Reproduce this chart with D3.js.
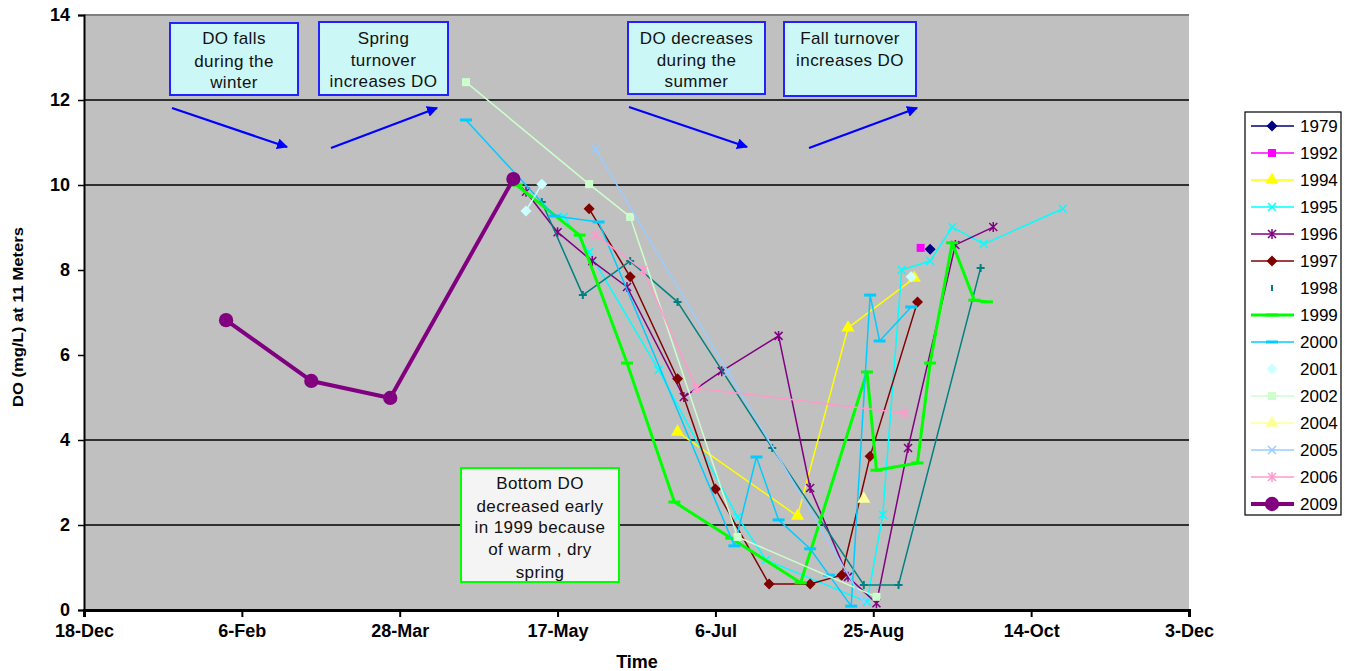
<!DOCTYPE html>
<html><head><meta charset="utf-8">
<script src="https://cdn.jsdelivr.net/npm/d3@7"></script>
<style>
body{margin:0;background:#fff}
svg{display:block}
text{font-family:"Liberation Sans",Arial,sans-serif}
</style>
</head><body>
<svg id="c" width="1345" height="671"></svg>
<script>
// ---------------- DATA ----------------
const years = ["1979","1992","1994","1995","1996","1997","1998","1999","2000","2001","2002","2004","2005","2006","2009"];
const xTickDates = ["2008-12-18","2009-02-06","2009-03-28","2009-05-17","2009-07-06","2009-08-25","2009-10-14","2009-12-03"];
const yTickValues = [0,2,4,6,8,10,12,14];
const gridValues = [2,4,10,12];

const d1979 = ["09-12"];
const v1979 = [8.49];
const d1992 = ["09-09"];
const v1992 = [8.52];
const d1994 = ["06-24","08-01","08-17","09-07"];
const v1994 = [4.19, 2.21, 6.64, 7.81];
const d1995 = ["05-19","05-27","06-18","07-13","07-22","08-23","08-28","09-03","09-12","09-19","09-29","10-24"];
const v1995 = [9.25, 8.42, 5.65, 2.19, 1.18, 0.19, 2.24, 8.00, 8.21, 9.01, 8.61, 9.44];
const d1996 = ["05-07","05-17","05-28","06-08","06-26","07-08","07-26","08-05","08-17","08-26","09-05","09-20","10-02"];
const v1996 = [9.84, 8.89, 8.21, 7.60, 5.01, 5.62, 6.45, 2.87, 0.78, 0.16, 3.81, 8.59, 9.01];
const d1997 = ["05-27","06-09","06-24","07-06","07-23","08-05","08-15","08-24","09-08"];
const v1997 = [9.44, 7.84, 5.44, 2.85, 0.61, 0.61, 0.82, 3.62, 7.25];
const d1998 = ["05-12","05-25","06-09","06-24","07-24","08-22","09-02","09-28"];
const v1998 = [9.60, 7.41, 8.21, 7.25, 3.81, 0.59, 0.59, 8.05];
const d1999 = ["05-04","05-24","06-08","06-23","07-11","08-02","08-23","08-26","09-08","09-12","09-19","09-26","09-30"];
const v1999 = [10.00, 8.82, 5.81, 2.54, 1.69, 0.64, 5.60, 3.29, 3.46, 5.81, 8.64, 7.29, 7.25];
const d2000 = ["04-18","05-16","05-30","07-12","07-19","07-26","08-05","08-11","08-18","08-24","08-27","09-06"];
const v2000 = [11.53, 9.27, 9.13, 1.51, 3.60, 2.12, 1.44, 0.82, 0.09, 7.41, 6.33, 7.13];
const d2001 = ["05-07","05-12", null, "09-06"];
const v2001 = [9.39, 10.02, null, 7.84];
const d2002 = ["04-18","05-27","06-09","07-13","08-26"];
const v2002 = [12.42, 10.02, 9.25, 1.72, 0.31];
const d2004 = ["08-22"];
const v2004 = [2.61];
const d2005 = ["05-29","07-10","08-22"];
const v2005 = [10.85, 5.60, 0.21];
const d2006 = ["05-29","06-13","06-30","09-04"];
const v2006 = [8.82, 8.00, 5.22, 4.63];
const d2009 = ["02-01","02-28","03-25","05-03"];
const v2009 = [6.82, 5.39, 4.99, 10.14];

const annotationTexts = [
  ["DO falls","during the","winter"],
  ["Spring","turnover","increases DO"],
  ["DO decreases","during the","summer"],
  ["Fall turnover","increases DO"],
  ["Bottom DO","decreased early","in 1999 because","of warm , dry","spring"]
];
const axisTitleX = "Time";
const axisTitleY = "DO (mg/L) at 11 Meters";

// ---------------- STYLE ----------------
const seriesDates = {"1979":d1979,"1992":d1992,"1994":d1994,"1995":d1995,"1996":d1996,"1997":d1997,"1998":d1998,"1999":d1999,"2000":d2000,"2001":d2001,"2002":d2002,"2004":d2004,"2005":d2005,"2006":d2006,"2009":d2009};
const seriesVals = {"1979":v1979,"1992":v1992,"1994":v1994,"1995":v1995,"1996":v1996,"1997":v1997,"1998":v1998,"1999":v1999,"2000":v2000,"2001":v2001,"2002":v2002,"2004":v2004,"2005":v2005,"2006":v2006,"2009":v2009};
const style = {
  "1979":{c:"#000080",m:"diamond",w:1.5,legLine:true},
  "1992":{c:"#FF00FF",m:"square",w:1.5,legLine:true},
  "1994":{c:"#FFFF00",m:"triangle",w:1.5,legLine:true},
  "1995":{c:"#00FFFF",m:"x",w:1.5,legLine:true},
  "1996":{c:"#800080",m:"star",w:1.5,legLine:true},
  "1997":{c:"#800000",m:"diamond",w:1.5,legLine:true},
  "1998":{c:"#008080",m:"plus",w:1.5,legLine:false},
  "1999":{c:"#00FF00",m:"dash",w:3,legLine:true},
  "2000":{c:"#00CCFF",m:"dash",w:1.5,legLine:true},
  "2001":{c:"#CCFFFF",m:"diamond",w:1.5,legLine:false},
  "2002":{c:"#CCFFCC",m:"square",w:1.5,legLine:true},
  "2004":{c:"#FFFF99",m:"triangle",w:1.5,legLine:true},
  "2005":{c:"#99CCFF",m:"x",w:1.5,legLine:true},
  "2006":{c:"#FF99CC",m:"star",w:1.5,legLine:true},
  "2009":{c:"#800080",m:"circle",w:4,legLine:true}
};

const plot = {left:84, right:1189, top:15, bottom:610};
const svg = d3.select("#c");
const parseFull = d3.timeParse("%Y-%m-%d");
const parseMD = s => s == null ? null : parseFull("2009-" + s);

const x = d3.scaleTime().domain([parseFull(xTickDates[0]), parseFull(xTickDates[xTickDates.length-1])]).range([plot.left, plot.right]);
const y = d3.scaleLinear().domain([0,14]).range([plot.bottom, plot.top]);

// plot background
svg.append("rect").attr("x",plot.left).attr("y",plot.top).attr("width",plot.right-plot.left).attr("height",plot.bottom-plot.top).attr("fill","#C0C0C0");
svg.append("line").attr("x1",plot.left).attr("x2",plot.right).attr("y1",y(14)).attr("y2",y(14)).attr("stroke","#808080").attr("stroke-width",2);

// gridlines
svg.append("g").selectAll("line").data(gridValues).join("line")
  .attr("x1",plot.left).attr("x2",plot.right).attr("y1",d=>y(d)).attr("y2",d=>y(d))
  .attr("stroke","#000").attr("stroke-width",1.4);

// axes
const yAxis = svg.append("g").attr("transform",`translate(${plot.left},0)`)
  .call(d3.axisLeft(y).tickValues(yTickValues).tickSize(6).tickPadding(8).tickFormat(d3.format("d")));
yAxis.select(".domain").attr("stroke","#000").attr("stroke-width",2);
yAxis.selectAll(".tick line").attr("stroke","#000").attr("stroke-width",1.5);
yAxis.selectAll("text").attr("font-size",18).attr("font-weight","bold").attr("fill","#000");

const xAxis = svg.append("g").attr("transform",`translate(0,${plot.bottom})`)
  .call(d3.axisBottom(x).tickValues(xTickDates.map(parseFull)).tickSize(7).tickPadding(7).tickFormat(d3.timeFormat("%-d-%b")));
xAxis.select(".domain").attr("stroke","#000").attr("stroke-width",3);
xAxis.selectAll(".tick line").attr("stroke","#000").attr("stroke-width",2);
xAxis.selectAll("text").attr("font-size",18).attr("font-weight","bold").attr("fill","#000");

svg.append("text").attr("x",637).attr("y",668).attr("text-anchor","middle").attr("font-size",18).attr("font-weight","bold").text(axisTitleX);
svg.append("text").attr("transform","translate(23,317) rotate(-90)").attr("text-anchor","middle")
  .attr("font-size",15).attr("font-weight","bold").attr("textLength",180).attr("lengthAdjust","spacingAndGlyphs").text(axisTitleY);

// markers
function drawMarker(g, type, color, legend){
  const sw = 1.5;
  switch(type){
    case "diamond": g.append("path").attr("d","M0,-5.5L5.5,0L0,5.5L-5.5,0Z").attr("fill",color); break;
    case "square": g.append("path").attr("d",d3.symbol(d3.symbolSquare,64)()).attr("fill",color); break;
    case "triangle": g.append("path").attr("d",d3.symbol(d3.symbolTriangle,75)()).attr("fill",color); break;
    case "circle": g.append("path").attr("d",d3.symbol(d3.symbolCircle,160)()).attr("fill",color); break;
    case "x": g.append("path").attr("d","M-4,-4L4,4M-4,4L4,-4").attr("stroke",color).attr("stroke-width",sw).attr("fill","none"); break;
    case "star": g.append("path").attr("d","M-4,-4L4,4M-4,4L4,-4M0,-5L0,5").attr("stroke",color).attr("stroke-width",sw).attr("fill","none"); break;
    case "plus": g.append("path").attr("d", legend ? "M0,-3L0,3" : "M-4,0L4,0M0,-4L0,4").attr("stroke",color).attr("stroke-width",sw+0.5).attr("fill","none"); break;
    case "dash": g.append("path").attr("d","M-6,0L6,0").attr("stroke",color).attr("stroke-width",3).attr("fill","none"); break;
  }
}

// series
const lineGen = d3.line().defined(d => d.v != null).x(d=>x(d.t)).y(d=>y(d.v));
const plotG = svg.append("g");
years.forEach(yr => {
  const st = style[yr];
  const pts = seriesDates[yr].map((s,i)=>({t:parseMD(s), v:seriesVals[yr][i]}));
  plotG.append("path").datum(pts).attr("d",lineGen).attr("fill","none").attr("stroke",st.c)
    .attr("stroke-width",st.w).attr("stroke-linejoin","round");
  pts.filter(p=>p.v!=null).forEach(p=>{
    const g = plotG.append("g").attr("transform",`translate(${x(p.t)},${y(p.v)})`);
    drawMarker(g, st.m, st.c, false);
  });
});

// annotation boxes
const boxes = [
  {x:170,y:23,w:128,h:72,lines:annotationTexts[0],ty:[44,67,88],stroke:"#2222FF",fill:"#CCF7F7"},
  {x:319,y:22,w:129,h:73,lines:annotationTexts[1],ty:[44,66,87],stroke:"#2222FF",fill:"#CCF7F7"},
  {x:628,y:22,w:137,h:72,lines:annotationTexts[2],ty:[44,66,87],stroke:"#2222FF",fill:"#CCF7F7"},
  {x:784,y:22,w:132,h:74,lines:annotationTexts[3],ty:[44,66],stroke:"#2222FF",fill:"#CCF7F7"},
  {x:461,y:468,w:158,h:114,lines:annotationTexts[4],ty:[489,512,533,555,578],stroke:"#00FF00",fill:"#F4F4F4"}
];
boxes.forEach(b=>{
  svg.append("rect").attr("x",b.x).attr("y",b.y).attr("width",b.w).attr("height",b.h)
    .attr("fill",b.fill).attr("stroke",b.stroke).attr("stroke-width",2);
  b.lines.forEach((t,i)=>{
    svg.append("text").attr("x",b.x+b.w/2).attr("y",b.ty[i]).attr("text-anchor","middle")
      .attr("font-size",17).attr("letter-spacing",0.4).attr("fill","#111").text(t);
  });
});

// arrows
const defs = svg.append("defs");
defs.append("marker").attr("id","ah").attr("viewBox","0 0 10 10").attr("refX",9).attr("refY",5)
  .attr("markerWidth",5).attr("markerHeight",5).attr("orient","auto")
  .append("path").attr("d","M0,0L10,5L0,10Z").attr("fill","#0000FF");
const arrows = [
  [172,108,287,147],[331,148,437,108],[629,107,747,147],[809,148,917,108]
];
svg.append("g").selectAll("line").data(arrows).join("line")
  .attr("x1",d=>d[0]).attr("y1",d=>d[1]).attr("x2",d=>d[2]).attr("y2",d=>d[3])
  .attr("stroke","#0000FF").attr("stroke-width",2.2).attr("marker-end","url(#ah)");

// legend
const leg = svg.append("g");
leg.append("rect").attr("x",1245).attr("y",112).attr("width",96).attr("height",403)
  .attr("fill","#fff").attr("stroke","#000").attr("stroke-width",1.2);
years.forEach((yr,i)=>{
  const st = style[yr];
  const cy = 126 + i*27;
  if (st.legLine) leg.append("line").attr("x1",1251).attr("x2",1294).attr("y1",cy).attr("y2",cy)
    .attr("stroke",st.c).attr("stroke-width",st.w);
  const g = leg.append("g").attr("transform",`translate(1272,${cy})`);
  drawMarker(g, st.m, st.c, true);
  leg.append("text").attr("x",1300).attr("y",cy+6).attr("font-size",17).attr("fill","#000").text(yr);
});
</script>
</body></html>
